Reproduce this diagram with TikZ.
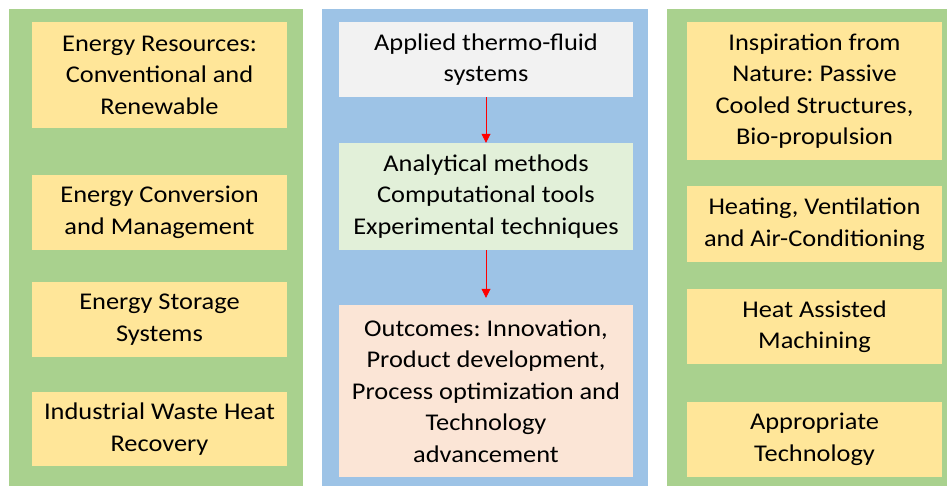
\documentclass[tikz,border=0pt]{standalone}
\usepackage{fontspec}
\setmainfont{Carlito}[FakeStretch=1.1]
\usepackage{xcolor}
\usetikzlibrary{arrows.meta, positioning}
\frenchspacing
\definecolor{panelgreen}{HTML}{A9D18E}
\definecolor{panelblue}{HTML}{9DC3E6}
\definecolor{boxyellow}{HTML}{FFE699}
\definecolor{boxgrey}{HTML}{F2F2F2}
\definecolor{boxgreen}{HTML}{E2F0D9}
\definecolor{boxpeach}{HTML}{FBE5D6}
\tikzset{%
	every topic/.style={
		rectangle,
		draw=none,
		align=center,
		inner sep=2pt,
		font=\fontsize{24}{31.5}\selectfont
	},
	side topic/.style={
		every topic,
		fill=boxyellow,
		minimum width=255pt
	},
	mid topic/.style={
		every topic,
		minimum width=294pt
	},
	flow arrow/.style={
		-{Triangle[width=9pt,length=9pt]},
		draw=red,
		line width=0.8pt
	},
}
\begin{document}
\begin{tikzpicture}[x=1pt, y=-1pt]
			\useasboundingbox (0,0) rectangle (947,486);
			
			\fill[panelgreen] (9,9) rectangle (303,486);
			\fill[panelblue] (322,9) rectangle (648,486);
			\fill[panelgreen] (667,9) rectangle (947,486);
			
			\node[side topic, minimum height=106pt] (resources) at (159.5,75) {Energy Resources:\\Conventional and\\Renewable};
			\node[side topic, minimum height=75pt] (conversion) at (159.5,212.5) {Energy Conversion\\and Management};
			\node[side topic, minimum height=75pt] (storage) at (159.5,319.5) {Energy Storage\\Systems};
			\node[side topic, minimum height=74pt] (wasteheat) at (159.5,429) {Industrial Waste Heat\\Recovery};
			
			\node[mid topic, fill=boxgrey, minimum height=75pt] (thermo) at (486,59.5) {Applied thermo-fluid\\systems};
			\node[mid topic, fill=boxgreen, minimum height=107pt] (methods) at (486,196.5) {Analytical methods\\Computational tools\\Experimental techniques};
			\node[mid topic, fill=boxpeach, minimum height=172pt] (outcomes) at (486,391) {Outcomes: Innovation,\\Product development,\\Process optimization and\\Technology\\advancement};
			
			\draw[flow arrow] (thermo) -- (methods);
			\draw[flow arrow, shorten >=7pt] (methods) -- (outcomes);
			
			\node[side topic, minimum height=138pt] (nature) at (814.5,91) {Inspiration from\\Nature: Passive\\Cooled Structures,\\Bio-propulsion};
			\node[side topic, minimum height=76pt] (hvac) at (814.5,224) {Heating, Ventilation\\and Air-Conditioning};
			\node[side topic, minimum height=75pt] (machining) at (814.5,326.5) {Heat Assisted\\Machining};
			\node[side topic, minimum height=75pt] (apptech) at (814.5,439.5) {Appropriate\\Technology};
		\end{tikzpicture}
\end{document}
